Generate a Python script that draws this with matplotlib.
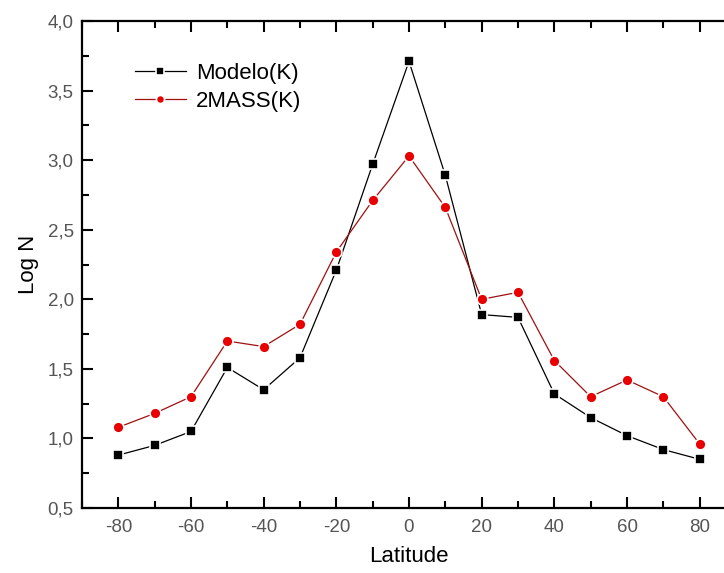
import matplotlib.pyplot as plt
from matplotlib.ticker import MultipleLocator, FuncFormatter

plt.rcParams['font.family'] = ['Liberation Sans', 'DejaVu Sans']

# Latitude bins and log counts
latitude = [-80, -70, -60, -50, -40, -30, -20, -10, 0, 10, 20, 30, 40, 50, 60, 70, 80]
modelo_k = [0.88, 0.95, 1.05, 1.51, 1.35, 1.58, 2.21, 2.97, 3.71, 2.89, 1.89, 1.87,
            1.32, 1.15, 1.02, 0.92, 0.85]
mass_k = [1.08, 1.18, 1.30, 1.70, 1.66, 1.82, 2.34, 2.71, 3.03, 2.66, 2.00, 2.05,
          1.56, 1.30, 1.42, 1.30, 0.96]

W, H = 724, 573
fig = plt.figure(figsize=(W / 100, H / 100), dpi=100)
# right edge of the frame falls outside the picture, as in the original
ax = fig.add_axes([82 / W, 1 - 508 / H, (736 - 82) / W, (508 - 21) / H])

# white marker edge leaves the little gap between line and symbol
ax.plot(latitude, modelo_k, color='black', lw=0.9, marker='s', ms=7.2,
        mfc='black', mec='white', mew=1.2, label='Modelo(K)')
ax.plot(latitude, mass_k, color='#a01010', lw=0.9, marker='o', ms=7.8,
        mfc='#e80000', mec='white', mew=1.2, label='2MASS(K)')

ax.set_xlim(-90, 90)
ax.set_ylim(0.5, 4.0)
ax.xaxis.set_major_locator(MultipleLocator(20))
ax.xaxis.set_minor_locator(MultipleLocator(10))
ax.yaxis.set_major_locator(MultipleLocator(0.5))
ax.yaxis.set_minor_locator(MultipleLocator(0.25))
ax.yaxis.set_major_formatter(FuncFormatter(lambda v, p: f"{v:.1f}".replace('.', ',')))
ax.xaxis.set_major_formatter(FuncFormatter(lambda v, p: f"{v:.0f}"))

ax.tick_params(which='both', direction='in', top=True, right=False,
               labelcolor='#555555', labelsize=13.5, width=1.5)
ax.tick_params(axis='x', pad=8)
ax.tick_params(axis='y', pad=6)
ax.tick_params(which='major', length=8)
ax.tick_params(which='minor', length=5)
for side in ['left', 'bottom', 'top']:
    ax.spines[side].set_linewidth(1.6)
ax.spines['right'].set_visible(False)

ax.set_xlabel('Latitude', fontsize=16, labelpad=7)
ax.set_ylabel('Log N', fontsize=16, labelpad=6)

ax.legend(loc='upper left', bbox_to_anchor=(0.05, 0.955), frameon=False,
          fontsize=16, handlelength=2.3, handletextpad=0.45, labelspacing=0.32,
          markerscale=0.75)

fig.savefig('out.png', dpi=100)
